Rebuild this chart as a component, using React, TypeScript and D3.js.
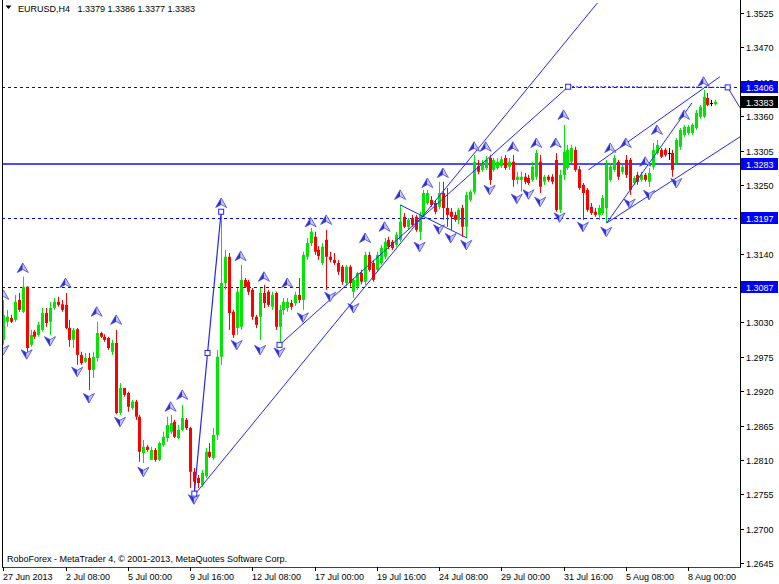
import React from "react";
import * as d3 from "d3";

// ---------- data ----------
const symbol = "EURUSD,H4";
const timeTickIndex = [0, 16, 32, 48, 64, 80, 96, 112, 128, 144, 160, 176];
const timeTickLabels = ["27 Jun 2013", "2 Jul 08:00", "5 Jul 00:00", "9 Jul 16:00", "12 Jul 08:00", "17 Jul 00:00", "19 Jul 16:00", "24 Jul 08:00", "29 Jul 00:00", "31 Jul 16:00", "5 Aug 08:00", "8 Aug 00:00"];
const priceTicks = [1.3525, 1.347, 1.3415, 1.336, 1.3305, 1.325, 1.3195, 1.314, 1.3085, 1.303, 1.2975, 1.292, 1.2865, 1.281, 1.2755, 1.27, 1.2645];

const opens = [
  1.3002, 1.3031, 1.3037, 1.3034, 1.3066, 1.3047, 1.3087, 1.2994, 1.3015, 1.3010,
  1.3018, 1.3045, 1.3031, 1.3053, 1.3063, 1.3059, 1.3058, 1.3021, 1.3002, 1.3019,
  1.2978, 1.2967, 1.2973, 1.2954, 1.2973, 1.3013, 1.3007, 1.3005, 1.2983, 1.2997,
  1.2885, 1.2925, 1.2917, 1.2893, 1.2903, 1.2879, 1.2821, 1.2831, 1.2810, 1.2826,
  1.2810, 1.2834, 1.2845, 1.2855, 1.2871, 1.2845, 1.2858, 1.2874, 1.2861, 1.2791,
  1.2781, 1.2770, 1.2784, 1.2823, 1.2813, 1.2850, 1.2975, 1.3093, 1.3135, 1.3047,
  1.3021, 1.3023, 1.3098, 1.3095, 1.3082, 1.3039, 1.3039, 1.3077, 1.3079, 1.3055,
  1.3077, 1.3023, 1.3050, 1.3053, 1.3061, 1.3061, 1.3074, 1.3066, 1.3135, 1.3157,
  1.3167, 1.3146, 1.3125, 1.3162, 1.3135, 1.3130, 1.3125, 1.3119, 1.3093, 1.3119,
  1.3079, 1.3087, 1.3109, 1.3095, 1.3138, 1.3125, 1.3114, 1.3125, 1.3135, 1.3162,
  1.3159, 1.3154, 1.3162, 1.3199, 1.3183, 1.3197, 1.3199, 1.3175, 1.3202, 1.3221,
  1.3226, 1.3221, 1.3215, 1.3237, 1.3213, 1.3207, 1.3202, 1.3194, 1.3213, 1.3183,
  1.3226, 1.3239, 1.3280, 1.3274, 1.3277, 1.3293, 1.3274, 1.3277, 1.3280, 1.3293,
  1.3279, 1.3287, 1.3258, 1.3258, 1.3263, 1.3261, 1.3258, 1.3263, 1.3287, 1.3255,
  1.3263, 1.3263, 1.3290, 1.3210, 1.3266, 1.3277, 1.3287, 1.3306, 1.3275, 1.3250,
  1.3242, 1.3215, 1.3207, 1.3202, 1.3205, 1.3213, 1.3258, 1.3274, 1.3287, 1.3271,
  1.3290, 1.3290, 1.3253, 1.3266, 1.3258, 1.3266, 1.3255, 1.3279, 1.3301, 1.3306,
  1.3306, 1.3301, 1.3301, 1.3285, 1.3311, 1.3330, 1.3333, 1.3333, 1.3341, 1.3359,
  1.3359, 1.3389, 1.3381, 1.3379,
];
const highs = [
  1.3066, 1.3050, 1.3042, 1.3074, 1.3077, 1.3103, 1.3088, 1.3018, 1.3018, 1.3031,
  1.3053, 1.3053, 1.3063, 1.3069, 1.3071, 1.3066, 1.3077, 1.3034, 1.3021, 1.3021,
  1.2983, 1.2981, 1.2981, 1.2983, 1.3031, 1.3015, 1.3011, 1.3007, 1.3002, 1.3018,
  1.2933, 1.2925, 1.2919, 1.2906, 1.2906, 1.2882, 1.2842, 1.2834, 1.2831, 1.2829,
  1.2839, 1.2855, 1.2879, 1.2882, 1.2874, 1.2866, 1.2898, 1.2877, 1.2863, 1.2797,
  1.2786, 1.2794, 1.2829, 1.2837, 1.2861, 1.2986, 1.3207, 1.3146, 1.3141, 1.3050,
  1.3085, 1.3122, 1.3101, 1.3098, 1.3085, 1.3042, 1.3085, 1.3090, 1.3082, 1.3079,
  1.3079, 1.3058, 1.3069, 1.3069, 1.3066, 1.3079, 1.3101, 1.3143, 1.3165, 1.3181,
  1.3175, 1.3152, 1.3157, 1.3178, 1.3143, 1.3141, 1.3130, 1.3122, 1.3122, 1.3122,
  1.3101, 1.3111, 1.3114, 1.3143, 1.3143, 1.3130, 1.3143, 1.3154, 1.3165, 1.3167,
  1.3162, 1.3175, 1.3218, 1.3205, 1.3197, 1.3202, 1.3202, 1.3207, 1.3242, 1.3242,
  1.3232, 1.3226, 1.3255, 1.3255, 1.3245, 1.3213, 1.3207, 1.3213, 1.3218, 1.3239,
  1.3242, 1.3298, 1.3290, 1.3290, 1.3296, 1.3298, 1.3293, 1.3293, 1.3296, 1.3298,
  1.3293, 1.3298, 1.3271, 1.3271, 1.3269, 1.3266, 1.3287, 1.3306, 1.3298, 1.3266,
  1.3266, 1.3267, 1.3301, 1.3274, 1.3346, 1.3314, 1.3314, 1.3311, 1.3280, 1.3253,
  1.3245, 1.3221, 1.3213, 1.3218, 1.3234, 1.3290, 1.3285, 1.3298, 1.3290, 1.3282,
  1.3298, 1.3293, 1.3264, 1.3271, 1.3271, 1.3269, 1.3277, 1.3317, 1.3322, 1.3309,
  1.3309, 1.3309, 1.3306, 1.3325, 1.3341, 1.3346, 1.3346, 1.3349, 1.3370, 1.3378,
  1.3402, 1.3397, 1.3386, 1.3386,
];
const lows = [
  1.2994, 1.3023, 1.3029, 1.3031, 1.3047, 1.3045, 1.2983, 1.2991, 1.3003, 1.3007,
  1.3015, 1.3023, 1.3010, 1.3050, 1.3055, 1.3047, 1.3019, 1.2991, 1.2989, 1.2962,
  1.2962, 1.2965, 1.2922, 1.2941, 1.2967, 1.3005, 1.2999, 1.2986, 1.2978, 1.2883,
  1.2882, 1.2911, 1.2887, 1.2890, 1.2874, 1.2807, 1.2805, 1.2823, 1.2810, 1.2807,
  1.2808, 1.2831, 1.2839, 1.2851, 1.2845, 1.2843, 1.2856, 1.2858, 1.2765, 1.2757,
  1.2765, 1.2767, 1.2781, 1.2813, 1.2810, 1.2842, 1.2962, 1.3082, 1.3018, 1.3005,
  1.3010, 1.3018, 1.3085, 1.3074, 1.3034, 1.3021, 1.3002, 1.3053, 1.3055, 1.3050,
  1.3018, 1.2994, 1.3042, 1.3047, 1.3050, 1.3056, 1.3061, 1.3050, 1.3130, 1.3152,
  1.3138, 1.3130, 1.3122, 1.3082, 1.3126, 1.3122, 1.3106, 1.3090, 1.3088, 1.3087,
  1.3069, 1.3082, 1.3091, 1.3090, 1.3111, 1.3095, 1.3111, 1.3122, 1.3131, 1.3147,
  1.3146, 1.3151, 1.3159, 1.3181, 1.3179, 1.3183, 1.3175, 1.3162, 1.3199, 1.3218,
  1.3215, 1.3203, 1.3211, 1.3194, 1.3183, 1.3178, 1.3191, 1.3187, 1.3167, 1.3165,
  1.3223, 1.3235, 1.3267, 1.3271, 1.3274, 1.3250, 1.3271, 1.3274, 1.3277, 1.3274,
  1.3274, 1.3247, 1.3251, 1.3239, 1.3251, 1.3250, 1.3255, 1.3258, 1.3237, 1.3250,
  1.3255, 1.3251, 1.3207, 1.3205, 1.3258, 1.3274, 1.3285, 1.3271, 1.3242, 1.3194,
  1.3207, 1.3202, 1.3199, 1.3194, 1.3202, 1.3189, 1.3255, 1.3271, 1.3258, 1.3267,
  1.3261, 1.3234, 1.3250, 1.3250, 1.3255, 1.3255, 1.3247, 1.3274, 1.3298, 1.3293,
  1.3295, 1.3290, 1.3263, 1.3282, 1.3306, 1.3327, 1.3330, 1.3330, 1.3338, 1.3356,
  1.3357, 1.3376, 1.3376, 1.3377,
];
const closes = [
  1.3042, 1.3039, 1.3031, 1.3063, 1.3050, 1.3087, 1.2989, 1.3010, 1.3007, 1.3026,
  1.3045, 1.3029, 1.3053, 1.3063, 1.3058, 1.3050, 1.3021, 1.3002, 1.3018, 1.2978,
  1.2965, 1.2973, 1.2954, 1.2975, 1.3013, 1.3007, 1.3002, 1.2989, 1.2997, 1.2885,
  1.2925, 1.2914, 1.2895, 1.2903, 1.2879, 1.2823, 1.2831, 1.2826, 1.2826, 1.2810,
  1.2837, 1.2847, 1.2866, 1.2869, 1.2847, 1.2858, 1.2877, 1.2861, 1.2791, 1.2775,
  1.2773, 1.2789, 1.2823, 1.2815, 1.2850, 1.2975, 1.3093, 1.3135, 1.3045, 1.3010,
  1.3079, 1.3098, 1.3087, 1.3079, 1.3039, 1.3026, 1.3077, 1.3061, 1.3058, 1.3074,
  1.3023, 1.3050, 1.3063, 1.3063, 1.3055, 1.3074, 1.3066, 1.3138, 1.3157, 1.3175,
  1.3143, 1.3136, 1.3151, 1.3135, 1.3130, 1.3125, 1.3111, 1.3095, 1.3119, 1.3093,
  1.3098, 1.3109, 1.3095, 1.3138, 1.3114, 1.3098, 1.3138, 1.3149, 1.3159, 1.3151,
  1.3149, 1.3170, 1.3191, 1.3183, 1.3194, 1.3186, 1.3178, 1.3202, 1.3237, 1.3237,
  1.3218, 1.3207, 1.3237, 1.3213, 1.3202, 1.3199, 1.3194, 1.3210, 1.3183, 1.3234,
  1.3239, 1.3287, 1.3271, 1.3285, 1.3290, 1.3258, 1.3290, 1.3287, 1.3291, 1.3277,
  1.3287, 1.3258, 1.3263, 1.3263, 1.3255, 1.3253, 1.3279, 1.3301, 1.3247, 1.3263,
  1.3258, 1.3255, 1.3210, 1.3266, 1.3303, 1.3306, 1.3309, 1.3274, 1.3245, 1.3237,
  1.3210, 1.3205, 1.3202, 1.3213, 1.3229, 1.3282, 1.3279, 1.3293, 1.3263, 1.3279,
  1.3266, 1.3242, 1.3261, 1.3255, 1.3266, 1.3258, 1.3269, 1.3306, 1.3314, 1.3295,
  1.3298, 1.3301, 1.3274, 1.3322, 1.3338, 1.3343, 1.3343, 1.3346, 1.3365, 1.3375,
  1.3391, 1.3378, 1.3381, 1.3383,
];

const dashedLevels = [1.3406, 1.3197, 1.3087];
const solidLevel = 1.3283;

// fractal arrows [bar index, price]
const upFractals = [
  [0, 1.3074], [5, 1.3117], [16, 1.3093], [24, 1.3047], [29, 1.3034], [43, 1.2895], [46, 1.2914],
  [56, 1.3221], [61, 1.3136], [67, 1.3103], [73, 1.3093], [79, 1.319], [83, 1.3194], [93, 1.3165],
  [98, 1.3183], [102, 1.3234], [109, 1.3253], [113, 1.3269], [121, 1.3311], [124, 1.3311],
  [131, 1.3311], [137, 1.3317], [142, 1.3317], [144, 1.3362], [156, 1.3309], [160, 1.3317],
  [165, 1.3287], [168, 1.3338], [175, 1.3362], [180, 1.3415],
];
const downFractals = [
  [0, 1.2986], [6, 1.2979], [12, 1.3], [19, 1.2951], [22, 1.2909], [30, 1.2871], [36, 1.2791],
  [49, 1.2747], [60, 1.2994], [66, 1.2986], [71, 1.2982], [77, 1.3038], [84, 1.3071], [90, 1.3053],
  [107, 1.3151], [112, 1.3179], [115, 1.3165], [119, 1.3154], [125, 1.3242], [132, 1.3228],
  [135, 1.3235], [138, 1.3223], [143, 1.3198], [149, 1.3183], [155, 1.3175], [161, 1.322],
  [166, 1.3234], [173, 1.3253],
];

// drawn objects [bar index, price]
const zigzagUp = [[49.1, 1.2756], [52.5, 1.2981], [56, 1.3207]];
const trendLong = [[49.4, 1.2756], [152.7, 1.3541]];
const forecastRise = [[71, 1.2994], [145.2, 1.3407]];
const forecastFlat = [[145.2, 1.3407], [186.2, 1.3406]];
const forecastDrop = [[186.2, 1.3406], [190, 1.3367]];
const triangleLine = [[102, 1.3218], [119.2, 1.3165]];
const channelUpper = [[150.4, 1.3274], [184.2, 1.3423]];
const channelLower = [[155.1, 1.3189], [189.4, 1.3327]];
const fanLine = [[155.1, 1.3189], [177, 1.3381]];
const handlePoints = [[49.1, 1.2756], [52.5, 1.2981], [56, 1.3207], [71, 1.2994], [145.2, 1.3407], [186.2, 1.3406]];

const copyright = "RoboForex - MetaTrader 4, \u00A9 2001-2013, MetaQuotes Software Corp.";

// ---------- component ----------
const FONT = "'Liberation Sans', Arial, sans-serif";

export default function App() {
  const W = 779, H = 584;
  const left = 2, right = 740, bottom = 567;
  const x = d3.scaleLinear().domain([0, 176]).range([3.3, 688]);
  const y = d3.scaleLinear().domain([1.2645, 1.3525]).range([563, 13]);
  const line = d3.line<number[]>().x((d) => x(d[0])).y((d) => y(d[1]));

  const bull = "#00e600";
  const bear = "#ff0000";
  const lineBlue = "#2424ff";

  const n = closes.length;
  const last = n - 1;
  const fmt = (v: number) => v.toFixed(4);

  const candles = d3.range(n).map((i) => {
    const o = opens[i], c = closes[i], h = highs[i], l = lows[i];
    const cx = Math.round(x(i));
    const color = o === c ? "#000000" : c > o ? bull : bear;
    const top = y(Math.max(o, c));
    const bot = y(Math.min(o, c));
    return (
      <g key={i}>
        <line x1={cx + 0.5} x2={cx + 0.5} y1={y(h)} y2={y(l)} stroke={color} strokeWidth={1} />
        <rect x={cx - 1} y={top} width={3} height={Math.max(1, bot - top)} fill={color} />
      </g>
    );
  });

  const arrow = (cx: number, cy: number, up: boolean, key: string) => {
    const s = up ? 1 : -1;
    const pL = `M${cx},${cy - 5 * s} L${cx},${cy + 1.5 * s} L${cx - 5.5},${cy + 4.5 * s} Z`;
    const pR = `M${cx},${cy - 5 * s} L${cx + 5.5},${cy + 4.5 * s} L${cx},${cy + 1.5 * s} Z`;
    return (
      <g key={key}>
        <path d={pL} fill="#2f2fd8" />
        <path d={pR} fill="#c9c9ff" />
        <path
          d={`M${cx},${cy - 5 * s} L${cx + 5.5},${cy + 4.5 * s} L${cx},${cy + 1.5 * s} L${cx - 5.5},${cy + 4.5 * s} Z`}
          fill="none"
          stroke="#4040e0"
          strokeWidth={0.8}
        />
      </g>
    );
  };

  const levelBox = (v: number, fill: string, key: string) => (
    <g key={key}>
      <rect x={741} y={Math.round(y(v)) - 6} width={37} height={12} fill={fill} />
      <text x={746} y={Math.round(y(v)) + 3.5} fontSize={9} fill="#ffffff" fontFamily={FONT}>
        {fmt(v)}
      </text>
    </g>
  );

  return (
    <svg
      width={W}
      height={H}
      style={{ position: "absolute", left: 0, top: 0, background: "#ffffff" }}
      fontFamily={FONT}
    >
      <defs>
        <clipPath id="plot">
          <rect x={left} y={0} width={right - left} height={bottom} />
        </clipPath>
      </defs>
      <rect x={0} y={0} width={W} height={H} fill="#ffffff" />

      <g clipPath="url(#plot)">
        {dashedLevels.map((v) => (
          <line key={v} x1={left} x2={right} y1={Math.round(y(v)) + 0.5} y2={Math.round(y(v)) + 0.5} stroke="#0000ff" strokeDasharray="3,3" />
        ))}
        <line x1={left} x2={right} y1={Math.round(y(solidLevel))} y2={Math.round(y(solidLevel))} stroke="#4d4dff" strokeWidth={2} />

        {candles}

        <path d={line(zigzagUp) || ""} fill="none" stroke={lineBlue} strokeWidth={1.2} />
        <path d={line(trendLong) || ""} fill="none" stroke={lineBlue} strokeWidth={1} />
        <path d={line(forecastRise) || ""} fill="none" stroke={lineBlue} strokeWidth={1} />
        <path d={line(forecastFlat) || ""} fill="none" stroke="#2a2aff" strokeWidth={1.3} strokeDasharray="2,2" />
        <path d={line(forecastDrop) || ""} fill="none" stroke={lineBlue} strokeWidth={1} />
        <path d={line(triangleLine) || ""} fill="none" stroke={lineBlue} strokeWidth={1} />
        <path d={line(channelUpper) || ""} fill="none" stroke={lineBlue} strokeWidth={1} />
        <path d={line(channelLower) || ""} fill="none" stroke={lineBlue} strokeWidth={1} />
        <path d={line(fanLine) || ""} fill="none" stroke={lineBlue} strokeWidth={1} />

        {upFractals.map((d, k) => arrow(x(d[0]), y(d[1]), true, "u" + k))}
        {downFractals.map((d, k) => arrow(x(d[0]), y(d[1]), false, "d" + k))}

        {handlePoints.map((d, k) => (
          <rect key={"h" + k} x={x(d[0]) - 2.5} y={y(d[1]) - 2.5} width={5} height={5} fill="#ffffff" stroke="#2424ff" strokeWidth={1} />
        ))}
      </g>

      {/* frame */}
      <line x1={left + 0.5} x2={left + 0.5} y1={0} y2={bottom} stroke="#000" />
      <line x1={right + 0.5} x2={right + 0.5} y1={0} y2={bottom + 1} stroke="#000" />
      <line x1={left} x2={right + 1} y1={bottom + 0.5} y2={bottom + 0.5} stroke="#404040" />

      {/* title */}
      <path d="M5.5,5.5 L11.5,5.5 L8.5,9 Z" fill="#000" />
      <text x={18} y={11.5} fontSize={9} fill="#000">{symbol}</text>
      <text x={77.5} y={11.5} fontSize={9} fill="#000">
        {[opens[last], highs[last], lows[last], closes[last]].map(fmt).join(" ")}
      </text>

      <text x={7} y={562} fontSize={9} fill="#000">{copyright}</text>

      {/* price axis */}
      {priceTicks.map((v) => (
        <g key={"t" + v}>
          <line x1={741} x2={744} y1={Math.round(y(v)) + 0.5} y2={Math.round(y(v)) + 0.5} stroke="#000" />
          <text x={746} y={Math.round(y(v)) + 3.5} fontSize={9} fill="#000">{fmt(v)}</text>
        </g>
      ))}
      {dashedLevels.map((v) => levelBox(v, "#0000ff", "lb" + v))}
      {levelBox(solidLevel, "#0000ff", "sb")}
      {levelBox(closes[last], "#000000", "cur")}

      {/* time axis */}
      {timeTickIndex.map((idx, k) => (
        <g key={"x" + idx}>
          <line x1={Math.round(x(idx)) + 0.5} x2={Math.round(x(idx)) + 0.5} y1={bottom} y2={bottom + 4} stroke="#000" />
          <text x={Math.round(x(idx))} y={580} fontSize={9} fill="#000">{timeTickLabels[k]}</text>
        </g>
      ))}
    </svg>
  );
}
